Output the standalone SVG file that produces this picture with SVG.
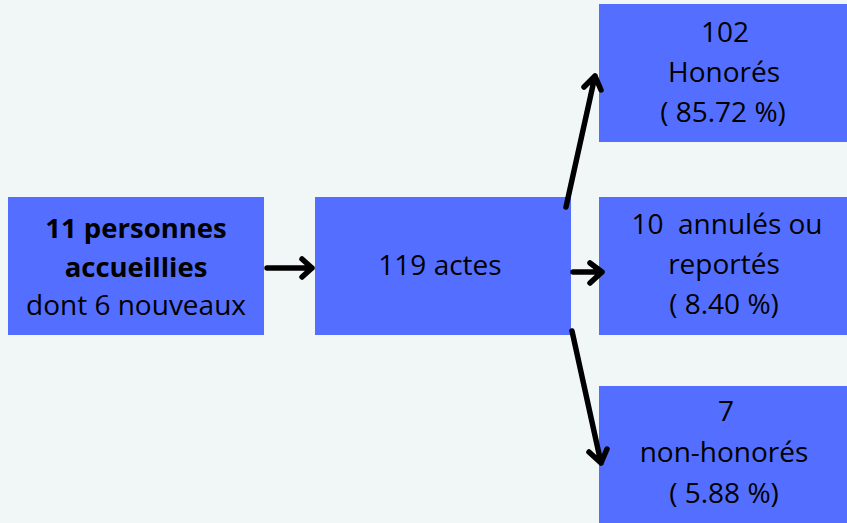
<svg xmlns="http://www.w3.org/2000/svg" width="847" height="523" viewBox="0 0 847 523">
<style>
.box{fill:#546FFF}
.t{font-family:"Open Sans","Noto Sans",sans-serif;font-size:28px;fill:#000;text-anchor:middle}
.b{font-weight:bold;font-size:27.5px}
.c{fill:none;stroke:#000;stroke-width:5.5;stroke-linecap:round;stroke-linejoin:round}
</style>
<rect width="847" height="523" fill="#F1F7F7"/>
<g id="node-personnes">
<rect class="box" x="8" y="197" width="256" height="138"/>
<text class="t b" x="136" y="238">11 personnes</text>
<text class="t b" x="136" y="277">accueillies</text>
<text class="t" x="136" y="315">dont 6 nouveaux</text>
</g>
<g id="node-actes">
<rect class="box" x="315" y="197" width="256" height="138"/>
<text class="t" x="440" y="275">119 actes</text>
</g>
<g id="node-honores">
<rect class="box" x="599" y="4" width="248" height="138"/>
<text class="t" x="725" y="42">102</text>
<text class="t" x="724" y="82">Honorés</text>
<text class="t" x="723" y="122">( 85.72 %)</text>
</g>
<g id="node-annules">
<rect class="box" x="599" y="197" width="248" height="138"/>
<text class="t" x="727" y="234" xml:space="preserve">10  annulés ou</text>
<text class="t" x="724" y="274">reportés</text>
<text class="t" x="724" y="314">( 8.40 %)</text>
</g>
<g id="node-nonhonores">
<rect class="box" x="599" y="386" width="248" height="137"/>
<text class="t" x="726" y="421">7</text>
<text class="t" x="724" y="462">non-honorés</text>
<text class="t" x="724" y="503">( 5.88 %)</text>
</g>
<g id="connectors">
<path class="c" d="M267 268 L312 268 M302 259 L312 268 L302 277"/>
<path class="c" d="M573 272 L602 272 M590 263 L602 272 L590 283"/>
<path class="c" d="M566 207 L595 76 M584 87 L595 76 L601 90"/>
<path class="c" d="M572 331 L601 463 M589 452 L601 463 L607 449"/>
</g>
</svg>
